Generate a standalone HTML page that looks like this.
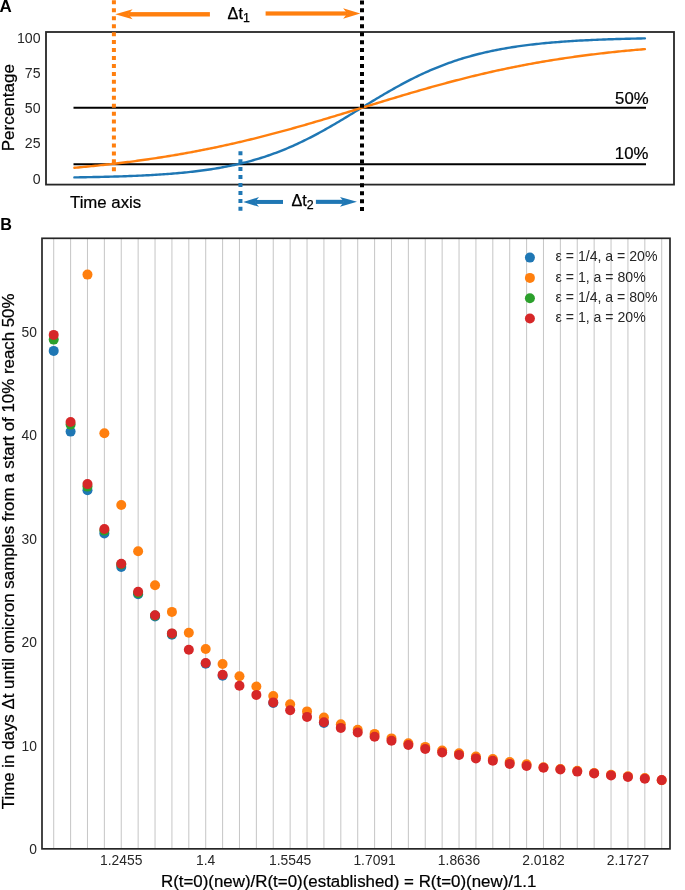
<!DOCTYPE html>
<html><head><meta charset="utf-8"><style>
html,body{margin:0;padding:0;background:#fff;}
svg{display:block;will-change:transform;}
</style></head><body>
<svg width="685" height="890" viewBox="0 0 685 890">
<rect width="685" height="890" fill="#fff"/>
<text x="-0.6" y="11.8" font-size="17" font-weight="bold" fill="#000" font-family="Liberation Sans, sans-serif">A</text>
<text transform="translate(40.6,184) scale(1,1.056)" font-size="14.16" text-anchor="end" fill="#262626" font-family="Liberation Sans, sans-serif">0</text>
<text transform="translate(40.6,148) scale(1,1.056)" font-size="14.16" text-anchor="end" fill="#262626" font-family="Liberation Sans, sans-serif">25</text>
<text transform="translate(40.6,113) scale(1,1.056)" font-size="14.16" text-anchor="end" fill="#262626" font-family="Liberation Sans, sans-serif">50</text>
<text transform="translate(40.6,78) scale(1,1.056)" font-size="14.16" text-anchor="end" fill="#262626" font-family="Liberation Sans, sans-serif">75</text>
<text transform="translate(40.6,43) scale(1,1.056)" font-size="14.16" text-anchor="end" fill="#262626" font-family="Liberation Sans, sans-serif">100</text>
<text transform="translate(14.2,107.7) rotate(-90)" font-size="17.05" text-anchor="middle" fill="#000" stroke="#000" stroke-width="0.22" font-family="Liberation Sans, sans-serif">Percentage</text>
<line x1="73.5" y1="107.8" x2="646" y2="107.8" stroke="#000" stroke-width="2"/>
<line x1="73.5" y1="164.2" x2="646" y2="164.2" stroke="#000" stroke-width="2"/>
<polyline points="74.40,177.38 76.30,177.36 78.20,177.33 80.11,177.30 82.01,177.27 83.91,177.24 85.81,177.21 87.71,177.17 89.61,177.14 91.52,177.10 93.42,177.07 95.32,177.03 97.22,176.99 99.12,176.95 101.02,176.91 102.93,176.86 104.83,176.82 106.73,176.77 108.63,176.72 110.53,176.67 112.43,176.62 114.34,176.56 116.24,176.51 118.14,176.45 120.04,176.39 121.94,176.33 123.84,176.26 125.75,176.20 127.65,176.13 129.55,176.06 131.45,175.98 133.35,175.91 135.25,175.83 137.16,175.75 139.06,175.66 140.96,175.58 142.86,175.49 144.76,175.39 146.66,175.30 148.56,175.20 150.47,175.09 152.37,174.99 154.27,174.88 156.17,174.76 158.07,174.64 159.98,174.52 161.88,174.40 163.78,174.27 165.68,174.13 167.58,173.99 169.48,173.85 171.38,173.70 173.29,173.55 175.19,173.39 177.09,173.22 178.99,173.05 180.89,172.88 182.80,172.70 184.70,172.51 186.60,172.32 188.50,172.12 190.40,171.92 192.30,171.71 194.21,171.49 196.11,171.26 198.01,171.03 199.91,170.79 201.81,170.54 203.71,170.29 205.62,170.03 207.52,169.76 209.42,169.48 211.32,169.19 213.22,168.89 215.12,168.59 217.03,168.27 218.93,167.95 220.83,167.62 222.73,167.27 224.63,166.92 226.53,166.55 228.44,166.18 230.34,165.80 232.24,165.40 234.14,164.99 236.04,164.57 237.94,164.14 239.84,163.70 241.75,163.25 243.65,162.78 245.55,162.30 247.45,161.81 249.35,161.31 251.25,160.79 253.16,160.26 255.06,159.71 256.96,159.15 258.86,158.58 260.76,158.00 262.66,157.40 264.57,156.78 266.47,156.15 268.37,155.51 270.27,154.85 272.17,154.18 274.08,153.49 275.98,152.79 277.88,152.07 279.78,151.34 281.68,150.59 283.58,149.83 285.49,149.05 287.39,148.25 289.29,147.45 291.19,146.62 293.09,145.78 294.99,144.93 296.89,144.06 298.80,143.18 300.70,142.28 302.60,141.37 304.50,140.44 306.40,139.50 308.31,138.55 310.21,137.58 312.11,136.60 314.01,135.61 315.91,134.60 317.81,133.58 319.72,132.55 321.62,131.51 323.52,130.45 325.42,129.39 327.32,128.32 329.22,127.23 331.12,126.14 333.03,125.04 334.93,123.93 336.83,122.81 338.73,121.68 340.63,120.55 342.53,119.41 344.44,118.27 346.34,117.12 348.24,115.97 350.14,114.81 352.04,113.65 353.95,112.49 355.85,111.33 357.75,110.16 359.65,108.99 361.55,107.83 363.45,106.66 365.36,105.50 367.26,104.34 369.16,103.18 371.06,102.02 372.96,100.87 374.86,99.72 376.76,98.58 378.67,97.44 380.57,96.31 382.47,95.18 384.37,94.07 386.27,92.96 388.17,91.85 390.08,90.76 391.98,89.68 393.88,88.60 395.78,87.54 397.68,86.48 399.59,85.44 401.49,84.41 403.39,83.39 405.29,82.38 407.19,81.38 409.09,80.40 411.00,79.43 412.90,78.47 414.80,77.53 416.70,76.60 418.60,75.68 420.50,74.77 422.40,73.88 424.31,73.01 426.21,72.15 428.11,71.30 430.01,70.47 431.91,69.65 433.82,68.85 435.72,68.06 437.62,67.28 439.52,66.52 441.42,65.78 443.32,65.05 445.23,64.33 447.13,63.63 449.03,62.94 450.93,62.27 452.83,61.61 454.73,60.96 456.63,60.33 458.54,59.71 460.44,59.11 462.34,58.52 464.24,57.94 466.14,57.37 468.04,56.82 469.95,56.28 471.85,55.76 473.75,55.24 475.65,54.74 477.55,54.25 479.46,53.78 481.36,53.31 483.26,52.86 485.16,52.42 487.06,51.98 488.96,51.56 490.87,51.15 492.77,50.76 494.67,50.37 496.57,49.99 498.47,49.62 500.37,49.26 502.27,48.91 504.18,48.57 506.08,48.24 507.98,47.92 509.88,47.60 511.78,47.30 513.69,47.00 515.59,46.71 517.49,46.43 519.39,46.16 521.29,45.90 523.19,45.64 525.10,45.39 527.00,45.14 528.90,44.91 530.80,44.68 532.70,44.46 534.60,44.24 536.50,44.03 538.41,43.82 540.31,43.62 542.21,43.43 544.11,43.24 546.01,43.06 547.91,42.89 549.82,42.71 551.72,42.55 553.62,42.39 555.52,42.23 557.42,42.08 559.33,41.93 561.23,41.79 563.13,41.65 565.03,41.51 566.93,41.38 568.83,41.25 570.74,41.13 572.64,41.01 574.54,40.90 576.44,40.78 578.34,40.67 580.24,40.57 582.14,40.47 584.05,40.37 585.95,40.27 587.85,40.18 589.75,40.09 591.65,40.00 593.55,39.91 595.46,39.83 597.36,39.75 599.26,39.67 601.16,39.60 603.06,39.52 604.97,39.45 606.87,39.38 608.77,39.32 610.67,39.25 612.57,39.19 614.47,39.13 616.38,39.07 618.28,39.01 620.18,38.96 622.08,38.91 623.98,38.85 625.88,38.80 627.78,38.76 629.69,38.71 631.59,38.66 633.49,38.62 635.39,38.58 637.29,38.53 639.19,38.49 641.10,38.45 643.00,38.42 644.90,38.38" fill="none" stroke="#1f77b4" stroke-width="2.4" stroke-linecap="round" stroke-linejoin="round"/>
<polyline points="74.40,167.80 76.30,167.63 78.20,167.45 80.11,167.28 82.01,167.10 83.91,166.92 85.81,166.73 87.71,166.55 89.61,166.36 91.52,166.17 93.42,165.98 95.32,165.78 97.22,165.58 99.12,165.38 101.02,165.18 102.93,164.98 104.83,164.77 106.73,164.56 108.63,164.34 110.53,164.13 112.43,163.91 114.34,163.69 116.24,163.46 118.14,163.24 120.04,163.01 121.94,162.77 123.84,162.54 125.75,162.30 127.65,162.06 129.55,161.82 131.45,161.57 133.35,161.32 135.25,161.07 137.16,160.81 139.06,160.55 140.96,160.29 142.86,160.02 144.76,159.75 146.66,159.48 148.56,159.21 150.47,158.93 152.37,158.65 154.27,158.37 156.17,158.08 158.07,157.79 159.98,157.49 161.88,157.20 163.78,156.90 165.68,156.59 167.58,156.28 169.48,155.97 171.38,155.66 173.29,155.34 175.19,155.02 177.09,154.70 178.99,154.37 180.89,154.04 182.80,153.70 184.70,153.36 186.60,153.02 188.50,152.68 190.40,152.33 192.30,151.98 194.21,151.62 196.11,151.26 198.01,150.90 199.91,150.53 201.81,150.16 203.71,149.79 205.62,149.41 207.52,149.03 209.42,148.64 211.32,148.26 213.22,147.86 215.12,147.47 217.03,147.07 218.93,146.67 220.83,146.26 222.73,145.85 224.63,145.44 226.53,145.02 228.44,144.60 230.34,144.17 232.24,143.75 234.14,143.31 236.04,142.88 237.94,142.44 239.84,142.00 241.75,141.55 243.65,141.10 245.55,140.65 247.45,140.20 249.35,139.74 251.25,139.27 253.16,138.81 255.06,138.34 256.96,137.86 258.86,137.39 260.76,136.91 262.66,136.42 264.57,135.94 266.47,135.45 268.37,134.95 270.27,134.46 272.17,133.96 274.08,133.46 275.98,132.95 277.88,132.44 279.78,131.93 281.68,131.42 283.58,130.90 285.49,130.38 287.39,129.86 289.29,129.33 291.19,128.80 293.09,128.27 294.99,127.74 296.89,127.20 298.80,126.66 300.70,126.12 302.60,125.58 304.50,125.04 306.40,124.49 308.31,123.94 310.21,123.38 312.11,122.83 314.01,122.27 315.91,121.72 317.81,121.16 319.72,120.59 321.62,120.03 323.52,119.46 325.42,118.90 327.32,118.33 329.22,117.76 331.12,117.19 333.03,116.61 334.93,116.04 336.83,115.46 338.73,114.89 340.63,114.31 342.53,113.73 344.44,113.15 346.34,112.57 348.24,111.99 350.14,111.41 352.04,110.83 353.95,110.25 355.85,109.66 357.75,109.08 359.65,108.50 361.55,107.91 363.45,107.33 365.36,106.75 367.26,106.16 369.16,105.58 371.06,105.00 372.96,104.41 374.86,103.83 376.76,103.25 378.67,102.67 380.57,102.09 382.47,101.51 384.37,100.93 386.27,100.35 388.17,99.77 390.08,99.20 391.98,98.62 393.88,98.05 395.78,97.48 397.68,96.91 399.59,96.34 401.49,95.77 403.39,95.20 405.29,94.64 407.19,94.08 409.09,93.52 411.00,92.96 412.90,92.40 414.80,91.84 416.70,91.29 418.60,90.74 420.50,90.19 422.40,89.65 424.31,89.10 426.21,88.56 428.11,88.02 430.01,87.49 431.91,86.95 433.82,86.42 435.72,85.89 437.62,85.37 439.52,84.84 441.42,84.32 443.32,83.81 445.23,83.29 447.13,82.78 449.03,82.28 450.93,81.77 452.83,81.27 454.73,80.77 456.63,80.28 458.54,79.79 460.44,79.30 462.34,78.81 464.24,78.33 466.14,77.85 468.04,77.38 469.95,76.91 471.85,76.44 473.75,75.98 475.65,75.52 477.55,75.06 479.46,74.61 481.36,74.16 483.26,73.72 485.16,73.27 487.06,72.84 488.96,72.40 490.87,71.97 492.77,71.54 494.67,71.12 496.57,70.70 498.47,70.29 500.37,69.88 502.27,69.47 504.18,69.07 506.08,68.67 507.98,68.27 509.88,67.88 511.78,67.49 513.69,67.11 515.59,66.73 517.49,66.35 519.39,65.98 521.29,65.61 523.19,65.24 525.10,64.88 527.00,64.52 528.90,64.17 530.80,63.82 532.70,63.48 534.60,63.13 536.50,62.79 538.41,62.46 540.31,62.13 542.21,61.80 544.11,61.48 546.01,61.16 547.91,60.84 549.82,60.53 551.72,60.22 553.62,59.92 555.52,59.62 557.42,59.32 559.33,59.03 561.23,58.74 563.13,58.45 565.03,58.17 566.93,57.89 568.83,57.61 570.74,57.34 572.64,57.07 574.54,56.80 576.44,56.54 578.34,56.28 580.24,56.02 582.14,55.77 584.05,55.52 585.95,55.27 587.85,55.03 589.75,54.79 591.65,54.56 593.55,54.32 595.46,54.09 597.36,53.86 599.26,53.64 601.16,53.42 603.06,53.20 604.97,52.99 606.87,52.77 608.77,52.56 610.67,52.36 612.57,52.15 614.47,51.95 616.38,51.76 618.28,51.56 620.18,51.37 622.08,51.18 623.98,50.99 625.88,50.81 627.78,50.63 629.69,50.45 631.59,50.27 633.49,50.10 635.39,49.92 637.29,49.76 639.19,49.59 641.10,49.43 643.00,49.26 644.90,49.10" fill="none" stroke="#ff7f0e" stroke-width="2.4" stroke-linecap="round" stroke-linejoin="round"/>
<rect x="46" y="32" width="628" height="152.6" fill="none" stroke="#262626" stroke-width="1.8"/>
<line x1="113.9" y1="0.35" x2="113.9" y2="171.6" stroke="#ff7f0e" stroke-width="4" stroke-dasharray="4 3.95"/>
<line x1="240.45" y1="151.2" x2="240.45" y2="211.1" stroke="#1f77b4" stroke-width="4" stroke-dasharray="4 3.95"/>
<line x1="362" y1="0.4" x2="362" y2="211.2" stroke="#000" stroke-width="4" stroke-dasharray="4 3.95"/>
<rect x="128.20" y="12.10" width="81.70" height="4.4" fill="#ff7f0e"/>
<polygon points="115.20,14.3 132.60,9.350000000000001 128.20,14.3 132.60,19.25" fill="#ff7f0e"/>
<rect x="265.60" y="11.40" width="81.70" height="4.2" fill="#ff7f0e"/>
<polygon points="360.30,13.5 343.10,8.35 347.30,13.5 343.10,18.65" fill="#ff7f0e"/>
<rect x="255.10" y="199.95" width="27.90" height="4.0" fill="#1f77b4"/>
<polygon points="243.20,201.95 259.00,197.1 255.10,201.95 259.00,206.79999999999998" fill="#1f77b4"/>
<rect x="315.90" y="199.80" width="28.00" height="4.1" fill="#1f77b4"/>
<polygon points="357.00,201.85 340.00,197.0 343.90,201.85 340.00,206.7" fill="#1f77b4"/>
<text x="227.6" y="18.7" font-size="16.2" fill="#000" stroke="#000" stroke-width="0.25" font-family="Liberation Sans, sans-serif">Δt<tspan font-size="12.4" dy="3.5">1</tspan></text>
<text x="291.5" y="205.8" font-size="16.2" fill="#000" stroke="#000" stroke-width="0.25" font-family="Liberation Sans, sans-serif">Δt<tspan font-size="12.4" dy="3.6">2</tspan></text>
<text x="648.6" y="103.7" font-size="16.75" text-anchor="end" fill="#000" stroke="#000" stroke-width="0.22" font-family="Liberation Sans, sans-serif">50%</text>
<text x="648.4" y="158.8" font-size="16.75" text-anchor="end" fill="#000" stroke="#000" stroke-width="0.22" font-family="Liberation Sans, sans-serif">10%</text>
<text x="70" y="208.3" font-size="16.8" fill="#000" stroke="#000" stroke-width="0.22" font-family="Liberation Sans, sans-serif">Time axis</text>
<text x="0.3" y="229.9" font-size="16.2" font-weight="bold" fill="#000" font-family="Liberation Sans, sans-serif">B</text>
<line x1="53.70" y1="238.3" x2="53.70" y2="848.85" stroke="#c8c8c8" stroke-width="1.05"/>
<line x1="70.59" y1="238.3" x2="70.59" y2="848.85" stroke="#c8c8c8" stroke-width="1.05"/>
<line x1="87.48" y1="238.3" x2="87.48" y2="848.85" stroke="#c8c8c8" stroke-width="1.05"/>
<line x1="104.37" y1="238.3" x2="104.37" y2="848.85" stroke="#c8c8c8" stroke-width="1.05"/>
<line x1="121.26" y1="238.3" x2="121.26" y2="848.85" stroke="#c8c8c8" stroke-width="1.05"/>
<line x1="138.14" y1="238.3" x2="138.14" y2="848.85" stroke="#c8c8c8" stroke-width="1.05"/>
<line x1="155.03" y1="238.3" x2="155.03" y2="848.85" stroke="#c8c8c8" stroke-width="1.05"/>
<line x1="171.92" y1="238.3" x2="171.92" y2="848.85" stroke="#c8c8c8" stroke-width="1.05"/>
<line x1="188.81" y1="238.3" x2="188.81" y2="848.85" stroke="#c8c8c8" stroke-width="1.05"/>
<line x1="205.70" y1="238.3" x2="205.70" y2="848.85" stroke="#c8c8c8" stroke-width="1.05"/>
<line x1="222.59" y1="238.3" x2="222.59" y2="848.85" stroke="#c8c8c8" stroke-width="1.05"/>
<line x1="239.48" y1="238.3" x2="239.48" y2="848.85" stroke="#c8c8c8" stroke-width="1.05"/>
<line x1="256.37" y1="238.3" x2="256.37" y2="848.85" stroke="#c8c8c8" stroke-width="1.05"/>
<line x1="273.26" y1="238.3" x2="273.26" y2="848.85" stroke="#c8c8c8" stroke-width="1.05"/>
<line x1="290.15" y1="238.3" x2="290.15" y2="848.85" stroke="#c8c8c8" stroke-width="1.05"/>
<line x1="307.03" y1="238.3" x2="307.03" y2="848.85" stroke="#c8c8c8" stroke-width="1.05"/>
<line x1="323.92" y1="238.3" x2="323.92" y2="848.85" stroke="#c8c8c8" stroke-width="1.05"/>
<line x1="340.81" y1="238.3" x2="340.81" y2="848.85" stroke="#c8c8c8" stroke-width="1.05"/>
<line x1="357.70" y1="238.3" x2="357.70" y2="848.85" stroke="#c8c8c8" stroke-width="1.05"/>
<line x1="374.59" y1="238.3" x2="374.59" y2="848.85" stroke="#c8c8c8" stroke-width="1.05"/>
<line x1="391.48" y1="238.3" x2="391.48" y2="848.85" stroke="#c8c8c8" stroke-width="1.05"/>
<line x1="408.37" y1="238.3" x2="408.37" y2="848.85" stroke="#c8c8c8" stroke-width="1.05"/>
<line x1="425.26" y1="238.3" x2="425.26" y2="848.85" stroke="#c8c8c8" stroke-width="1.05"/>
<line x1="442.15" y1="238.3" x2="442.15" y2="848.85" stroke="#c8c8c8" stroke-width="1.05"/>
<line x1="459.04" y1="238.3" x2="459.04" y2="848.85" stroke="#c8c8c8" stroke-width="1.05"/>
<line x1="475.92" y1="238.3" x2="475.92" y2="848.85" stroke="#c8c8c8" stroke-width="1.05"/>
<line x1="492.81" y1="238.3" x2="492.81" y2="848.85" stroke="#c8c8c8" stroke-width="1.05"/>
<line x1="509.70" y1="238.3" x2="509.70" y2="848.85" stroke="#c8c8c8" stroke-width="1.05"/>
<line x1="526.59" y1="238.3" x2="526.59" y2="848.85" stroke="#c8c8c8" stroke-width="1.05"/>
<line x1="543.48" y1="238.3" x2="543.48" y2="848.85" stroke="#c8c8c8" stroke-width="1.05"/>
<line x1="560.37" y1="238.3" x2="560.37" y2="848.85" stroke="#c8c8c8" stroke-width="1.05"/>
<line x1="577.26" y1="238.3" x2="577.26" y2="848.85" stroke="#c8c8c8" stroke-width="1.05"/>
<line x1="594.15" y1="238.3" x2="594.15" y2="848.85" stroke="#c8c8c8" stroke-width="1.05"/>
<line x1="611.04" y1="238.3" x2="611.04" y2="848.85" stroke="#c8c8c8" stroke-width="1.05"/>
<line x1="627.93" y1="238.3" x2="627.93" y2="848.85" stroke="#c8c8c8" stroke-width="1.05"/>
<line x1="644.82" y1="238.3" x2="644.82" y2="848.85" stroke="#c8c8c8" stroke-width="1.05"/>
<line x1="661.70" y1="238.3" x2="661.70" y2="848.85" stroke="#c8c8c8" stroke-width="1.05"/>
<text transform="translate(37.0,854.48) scale(1,1.035)" font-size="13.85" text-anchor="end" fill="#262626" font-family="Liberation Sans, sans-serif">0</text>
<text transform="translate(37.0,750.92) scale(1,1.035)" font-size="13.85" text-anchor="end" fill="#262626" font-family="Liberation Sans, sans-serif">10</text>
<text transform="translate(37.0,647.36) scale(1,1.035)" font-size="13.85" text-anchor="end" fill="#262626" font-family="Liberation Sans, sans-serif">20</text>
<text transform="translate(37.0,543.80) scale(1,1.035)" font-size="13.85" text-anchor="end" fill="#262626" font-family="Liberation Sans, sans-serif">30</text>
<text transform="translate(37.0,440.24) scale(1,1.035)" font-size="13.85" text-anchor="end" fill="#262626" font-family="Liberation Sans, sans-serif">40</text>
<text transform="translate(37.0,336.68) scale(1,1.035)" font-size="13.85" text-anchor="end" fill="#262626" font-family="Liberation Sans, sans-serif">50</text>
<text x="121.26" y="865.2" font-size="13.85" text-anchor="middle" fill="#262626" font-family="Liberation Sans, sans-serif">1.2455</text>
<text x="205.70" y="865.2" font-size="13.85" text-anchor="middle" fill="#262626" font-family="Liberation Sans, sans-serif">1.4</text>
<text x="290.15" y="865.2" font-size="13.85" text-anchor="middle" fill="#262626" font-family="Liberation Sans, sans-serif">1.5545</text>
<text x="374.59" y="865.2" font-size="13.85" text-anchor="middle" fill="#262626" font-family="Liberation Sans, sans-serif">1.7091</text>
<text x="459.04" y="865.2" font-size="13.85" text-anchor="middle" fill="#262626" font-family="Liberation Sans, sans-serif">1.8636</text>
<text x="543.48" y="865.2" font-size="13.85" text-anchor="middle" fill="#262626" font-family="Liberation Sans, sans-serif">2.0182</text>
<text x="627.93" y="865.2" font-size="13.85" text-anchor="middle" fill="#262626" font-family="Liberation Sans, sans-serif">2.1727</text>
<circle cx="53.70" cy="350.9" r="5.0" fill="#1f77b4"/>
<circle cx="70.59" cy="431.6" r="5.0" fill="#1f77b4"/>
<circle cx="87.48" cy="490.2" r="5.0" fill="#1f77b4"/>
<circle cx="104.37" cy="533.4" r="5.0" fill="#1f77b4"/>
<circle cx="121.26" cy="567.0" r="5.0" fill="#1f77b4"/>
<circle cx="138.14" cy="594.3" r="5.0" fill="#1f77b4"/>
<circle cx="155.03" cy="616.5" r="5.0" fill="#1f77b4"/>
<circle cx="171.92" cy="634.8" r="5.0" fill="#1f77b4"/>
<circle cx="205.70" cy="663.8" r="5.0" fill="#1f77b4"/>
<circle cx="222.59" cy="675.7" r="5.0" fill="#1f77b4"/>
<circle cx="273.26" cy="703.0" r="5.0" fill="#1f77b4"/>
<circle cx="323.92" cy="722.9" r="5.0" fill="#1f77b4"/>
<circle cx="87.48" cy="274.6" r="5.0" fill="#ff7f0e"/>
<circle cx="104.37" cy="433.3" r="5.0" fill="#ff7f0e"/>
<circle cx="121.26" cy="505.0" r="5.0" fill="#ff7f0e"/>
<circle cx="138.14" cy="551.2" r="5.0" fill="#ff7f0e"/>
<circle cx="155.03" cy="585.3" r="5.0" fill="#ff7f0e"/>
<circle cx="171.92" cy="611.9" r="5.0" fill="#ff7f0e"/>
<circle cx="188.81" cy="632.8" r="5.0" fill="#ff7f0e"/>
<circle cx="205.70" cy="649.0" r="5.0" fill="#ff7f0e"/>
<circle cx="222.59" cy="664.0" r="5.0" fill="#ff7f0e"/>
<circle cx="239.48" cy="676.3" r="5.0" fill="#ff7f0e"/>
<circle cx="256.37" cy="686.5" r="5.0" fill="#ff7f0e"/>
<circle cx="273.26" cy="696.0" r="5.0" fill="#ff7f0e"/>
<circle cx="290.15" cy="704.2" r="5.0" fill="#ff7f0e"/>
<circle cx="307.03" cy="711.4" r="5.0" fill="#ff7f0e"/>
<circle cx="323.92" cy="717.5" r="5.0" fill="#ff7f0e"/>
<circle cx="340.81" cy="724.2" r="5.0" fill="#ff7f0e"/>
<circle cx="357.70" cy="729.7" r="5.0" fill="#ff7f0e"/>
<circle cx="374.59" cy="733.9" r="5.0" fill="#ff7f0e"/>
<circle cx="391.48" cy="738.4" r="5.0" fill="#ff7f0e"/>
<circle cx="408.37" cy="743.2" r="5.0" fill="#ff7f0e"/>
<circle cx="425.26" cy="746.9" r="5.0" fill="#ff7f0e"/>
<circle cx="442.15" cy="750.6" r="5.0" fill="#ff7f0e"/>
<circle cx="459.04" cy="753.2" r="5.0" fill="#ff7f0e"/>
<circle cx="475.92" cy="756.6" r="5.0" fill="#ff7f0e"/>
<circle cx="492.81" cy="759.0" r="5.0" fill="#ff7f0e"/>
<circle cx="509.70" cy="762.1" r="5.0" fill="#ff7f0e"/>
<circle cx="526.59" cy="764.3" r="5.0" fill="#ff7f0e"/>
<circle cx="543.48" cy="767.3" r="5.0" fill="#ff7f0e"/>
<circle cx="560.37" cy="769.0" r="5.0" fill="#ff7f0e"/>
<circle cx="577.26" cy="770.7" r="5.0" fill="#ff7f0e"/>
<circle cx="594.15" cy="773.0" r="5.0" fill="#ff7f0e"/>
<circle cx="611.04" cy="774.7" r="5.0" fill="#ff7f0e"/>
<circle cx="627.93" cy="776.2" r="5.0" fill="#ff7f0e"/>
<circle cx="644.82" cy="778.0" r="5.0" fill="#ff7f0e"/>
<circle cx="661.70" cy="780.3" r="5.0" fill="#ff7f0e"/>
<circle cx="53.70" cy="339.6" r="5.0" fill="#2ca02c"/>
<circle cx="70.59" cy="424.6" r="5.0" fill="#2ca02c"/>
<circle cx="87.48" cy="486.6" r="5.0" fill="#2ca02c"/>
<circle cx="104.37" cy="530.6" r="5.0" fill="#2ca02c"/>
<circle cx="121.26" cy="564.4" r="5.0" fill="#2ca02c"/>
<circle cx="138.14" cy="593.1" r="5.0" fill="#2ca02c"/>
<circle cx="155.03" cy="615.6" r="5.0" fill="#2ca02c"/>
<circle cx="171.92" cy="633.8" r="5.0" fill="#2ca02c"/>
<circle cx="53.70" cy="334.9" r="5.0" fill="#d62728"/>
<circle cx="70.59" cy="422.0" r="5.0" fill="#d62728"/>
<circle cx="87.48" cy="484.1" r="5.0" fill="#d62728"/>
<circle cx="104.37" cy="529.0" r="5.0" fill="#d62728"/>
<circle cx="121.26" cy="563.8" r="5.0" fill="#d62728"/>
<circle cx="138.14" cy="591.7" r="5.0" fill="#d62728"/>
<circle cx="155.03" cy="615.2" r="5.0" fill="#d62728"/>
<circle cx="171.92" cy="633.4" r="5.0" fill="#d62728"/>
<circle cx="188.81" cy="649.7" r="5.0" fill="#d62728"/>
<circle cx="205.70" cy="663.0" r="5.0" fill="#d62728"/>
<circle cx="222.59" cy="674.7" r="5.0" fill="#d62728"/>
<circle cx="239.48" cy="685.7" r="5.0" fill="#d62728"/>
<circle cx="256.37" cy="694.9" r="5.0" fill="#d62728"/>
<circle cx="273.26" cy="702.4" r="5.0" fill="#d62728"/>
<circle cx="290.15" cy="710.3" r="5.0" fill="#d62728"/>
<circle cx="307.03" cy="716.9" r="5.0" fill="#d62728"/>
<circle cx="323.92" cy="722.3" r="5.0" fill="#d62728"/>
<circle cx="340.81" cy="727.9" r="5.0" fill="#d62728"/>
<circle cx="357.70" cy="732.5" r="5.0" fill="#d62728"/>
<circle cx="374.59" cy="736.8" r="5.0" fill="#d62728"/>
<circle cx="391.48" cy="740.8" r="5.0" fill="#d62728"/>
<circle cx="408.37" cy="745.0" r="5.0" fill="#d62728"/>
<circle cx="425.26" cy="749.0" r="5.0" fill="#d62728"/>
<circle cx="442.15" cy="752.5" r="5.0" fill="#d62728"/>
<circle cx="459.04" cy="754.9" r="5.0" fill="#d62728"/>
<circle cx="475.92" cy="758.4" r="5.0" fill="#d62728"/>
<circle cx="492.81" cy="760.8" r="5.0" fill="#d62728"/>
<circle cx="509.70" cy="763.9" r="5.0" fill="#d62728"/>
<circle cx="526.59" cy="766.0" r="5.0" fill="#d62728"/>
<circle cx="543.48" cy="767.8" r="5.0" fill="#d62728"/>
<circle cx="560.37" cy="769.5" r="5.0" fill="#d62728"/>
<circle cx="577.26" cy="771.6" r="5.0" fill="#d62728"/>
<circle cx="594.15" cy="773.4" r="5.0" fill="#d62728"/>
<circle cx="611.04" cy="775.4" r="5.0" fill="#d62728"/>
<circle cx="627.93" cy="776.9" r="5.0" fill="#d62728"/>
<circle cx="644.82" cy="778.8" r="5.0" fill="#d62728"/>
<circle cx="661.70" cy="780.1" r="5.0" fill="#d62728"/>
<rect x="42" y="238.3" width="628" height="610.55" fill="none" stroke="#262626" stroke-width="1.7"/>
<circle cx="529.9" cy="257.60" r="5.0" fill="#1f77b4"/>
<text x="555.6" y="261.30" font-size="14.1" fill="#262626" font-family="Liberation Sans, sans-serif">ε = 1/4, a = 20%</text>
<circle cx="529.9" cy="277.90" r="5.0" fill="#ff7f0e"/>
<text x="555.6" y="281.60" font-size="14.1" fill="#262626" font-family="Liberation Sans, sans-serif">ε = 1, a = 80%</text>
<circle cx="529.9" cy="298.20" r="5.0" fill="#2ca02c"/>
<text x="555.6" y="301.90" font-size="14.1" fill="#262626" font-family="Liberation Sans, sans-serif">ε = 1/4, a = 80%</text>
<circle cx="529.9" cy="318.50" r="5.0" fill="#d62728"/>
<text x="555.6" y="322.20" font-size="14.1" fill="#262626" font-family="Liberation Sans, sans-serif">ε = 1, a = 20%</text>
<text x="348.7" y="887" font-size="16.9" text-anchor="middle" fill="#000" stroke="#000" stroke-width="0.22" font-family="Liberation Sans, sans-serif">R(t=0)(new)/R(t=0)(established) = R(t=0)(new)/1.1</text>
<text transform="translate(14.15,551.35) rotate(-90)" font-size="16.865" text-anchor="middle" fill="#000" stroke="#000" stroke-width="0.22" font-family="Liberation Sans, sans-serif">Time in days Δt until omicron samples from a start of 10% reach 50%</text>
</svg>
</body></html>
